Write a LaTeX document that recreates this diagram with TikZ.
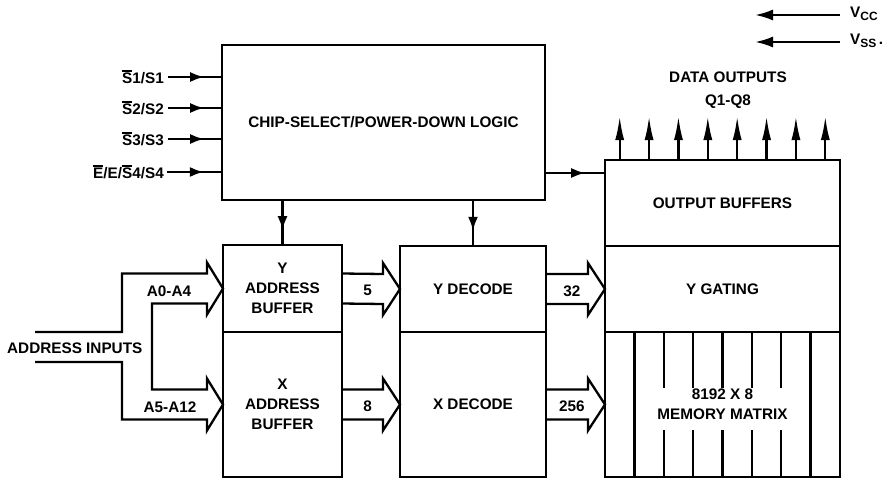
\documentclass[tikz,border=0pt]{standalone}
\usepackage{fontspec}
\setmainfont{Liberation Sans}
\usetikzlibrary{arrows.meta,calc,decorations.markings}
\newsavebox\olbox
\newcommand\olbar[1]{\sbox\olbox{#1}\rlap{\rule[\dimexpr\ht\olbox+1.4pt\relax]{\wd\olbox}{1.4pt}}\usebox\olbox}
\newcommand\lowsub[1]{\raisebox{-3pt}{\fontsize{12}{12}\selectfont #1}}
\newcommand\fatbus[4]{%
  \draw[fat] ($(#1)+(0,-15)$) -- ($(#2)+(-17,-15)$) -- ++(0,-11) -- (#2)
     -- ($(#2)+(-17,26)$) -- ++(0,-11) -- ($(#1)+(0,15)$);
  \node[txt] (#4) at ($($(#1)!0.44!(#2)$)+(0,2)$) {#3};}
\begin{document}
\begin{tikzpicture}[x=1pt,y=-1pt,
  txt/.style={font=\fontsize{15.3}{20}\selectfont\bfseries, inner sep=0pt, align=center},
  blk/.style={draw, line width=2.5pt, inner sep=0pt, outer sep=0pt, align=center,
              font=\fontsize{15.3}{20}\selectfont\bfseries},
  conn/.style={line width=2.3pt},
  fat/.style={line width=2.3pt, line join=miter},
  midarrow/.style={conn, postaction={decorate},
     decoration={markings, mark=at position 0.67 with {\arrow{Latex[length=14pt,width=10pt]}}}},
  pwr/.style={conn, -{Latex[length=18pt,width=11pt]}},
  outarrow/.style={conn, -{Latex[length=24pt,width=9pt]}}]
\useasboundingbox (0,0) rectangle (893,482);

% blocks
\node[blk, minimum width=323, minimum height=155] (csl) at (383.5,122.5) {CHIP-SELECT/POWER-DOWN LOGIC};
\node[blk, minimum width=119, minimum height=87] (yab) at (282.5,288.5) {Y\\ADDRESS\\BUFFER};
\node[blk, minimum width=119, minimum height=145] (xab) at (282.5,404.5) {X\\ADDRESS\\BUFFER};
\node[blk, minimum width=146, minimum height=86] (ydec) at (473,289) {Y DECODE};
\node[blk, minimum width=146, minimum height=145] (xdec) at (473,404.5) {X DECODE};
\node[blk, minimum width=235, minimum height=86] (ob) at (722.5,203) {OUTPUT BUFFERS};
\node[blk, minimum width=235, minimum height=86] (yg) at (722.5,289) {Y GATING};
\node[blk, minimum width=235, minimum height=145] (mm) at (722.5,404.5) {};
\node[txt] (mmt) at (mm.center) {8192 X 8\\MEMORY MATRIX};

% memory matrix columns
\foreach \k in {1,7} {
  \draw[conn] ($(mm.north west)+(29.375*\k,0)$) -- ($(mm.south west)+(29.375*\k,0)$);
}
\foreach \k in {2,...,6} {
  \draw[conn] ($(mm.north west)+(29.375*\k,0)$) -- ++(0,56);
  \draw[conn] ($(mm.south west)+(29.375*\k,0)$) -- ++(0,-47);
}

% data outputs
\foreach \k in {0,...,7} {
  \draw[outarrow] ($(ob.north west)+(29.375*\k+14.69,0)$) -- ++(0,-44);
}
\node[txt] (dout) at (728,77) {DATA OUTPUTS};
\node[txt] (qout) at (728,102) {Q1-Q8};

% power pins
\node[txt, anchor=west] (vcc) at (850,14) {V\lowsub{CC}};
\node[txt, anchor=west] (vss) at (850,41) {V\lowsub{SS}\,.};
\coordinate (vccpin) at (755,15);
\coordinate (vsspin) at (755,42);
\draw[pwr] ($(vcc.west |- vccpin)+(-10,0)$) -- (vccpin);
\draw[pwr] ($(vss.west |- vsspin)+(-10,0)$) -- (vsspin);

% chip select inputs
\node[txt, anchor=east] (s1) at (164,77) {\olbar{S}1/S1};
\node[txt, anchor=east] (s2) at (164,108) {\olbar{S}2/S2};
\node[txt, anchor=east] (s3) at (164,139) {\olbar{S}3/S3};
\node[txt, anchor=east] (s4) at (164,172) {\olbar{E}/E/\olbar{S}4/S4};
\coordinate (p1) at (168,77);
\coordinate (p2) at (168,108);
\coordinate (p3) at (168,139);
\coordinate (p4) at (167,172);
\foreach \p in {p1,p2,p3,p4} {
  \draw[midarrow] (\p) -- (\p -| csl.west);
}

% chip select to blocks
\draw[midarrow] (yab.north |- csl.south) -- (yab.north);
\draw[midarrow] (ydec.north |- csl.south) -- (ydec.north);
\coordinate (cso) at ($(csl.south east)+(0,-27)$);
\draw[midarrow] (cso) -- (cso -| ob.west);

% address inputs
\node[txt, anchor=west] (ai) at (7,348) {ADDRESS INPUTS};
\coordinate (aiu) at (35,332);
\coordinate (ail) at (35,362);
\coordinate (t1) at (yab.west);
\coordinate (t2) at (xab.west);
\draw[fat] (aiu) -- ++(87,0) |- ($(t1)+(-16,-15)$) -- ++(0,-11) -- (t1)
  -- ($(t1)+(-16,26)$) -- ++(0,-11) -- ($(t1)+(-71,15)$)
  |- ($(t2)+(-16,-15)$) -- ++(0,-11) -- (t2)
  -- ($(t2)+(-16,26)$) -- ++(0,-11) -| ($(ail)+(87,0)$) -- (ail);
\node[txt] (a04) at (169,291) {A0-A4};
\node[txt] (a512) at (170,407) {A5-A12};

% internal buses
\fatbus{yab.east}{ydec.west}{5}{b5}
\fatbus{xab.east}{xdec.west}{8}{b8}
\fatbus{ydec.east}{yg.west}{32}{b32}
\fatbus{xdec.east}{mm.west}{256}{b256}
\end{tikzpicture}
\end{document}
